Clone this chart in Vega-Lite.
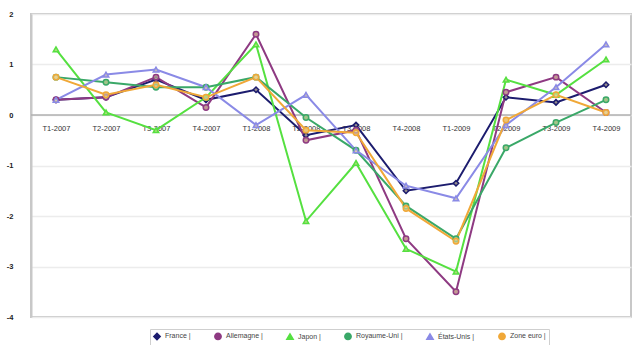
{
  "$schema": "https://vega.github.io/schema/vega-lite/v6.json",
  "width": 600,
  "height": 303,
  "autosize": "none",
  "padding": {"left": 31, "top": 14, "right": 1, "bottom": 28},
  "background": "#ffffff",
  "config": {
    "font": "Liberation Sans",
    "view": {"stroke": "#c8c8c8", "strokeWidth": 2}
  },
  "datasets": {
    "pib": [
      {"t": "T1-2007", "pays": "France", "v": 0.3},
      {"t": "T2-2007", "pays": "France", "v": 0.35},
      {"t": "T3-2007", "pays": "France", "v": 0.7},
      {"t": "T4-2007", "pays": "France", "v": 0.3},
      {"t": "T1-2008", "pays": "France", "v": 0.5},
      {"t": "T2-2008", "pays": "France", "v": -0.4},
      {"t": "T3-2008", "pays": "France", "v": -0.2},
      {"t": "T4-2008", "pays": "France", "v": -1.5},
      {"t": "T1-2009", "pays": "France", "v": -1.35},
      {"t": "T2-2009", "pays": "France", "v": 0.35},
      {"t": "T3-2009", "pays": "France", "v": 0.25},
      {"t": "T4-2009", "pays": "France", "v": 0.6},

      {"t": "T1-2007", "pays": "Allemagne", "v": 0.3},
      {"t": "T2-2007", "pays": "Allemagne", "v": 0.35},
      {"t": "T3-2007", "pays": "Allemagne", "v": 0.75},
      {"t": "T4-2007", "pays": "Allemagne", "v": 0.15},
      {"t": "T1-2008", "pays": "Allemagne", "v": 1.6},
      {"t": "T2-2008", "pays": "Allemagne", "v": -0.5},
      {"t": "T3-2008", "pays": "Allemagne", "v": -0.3},
      {"t": "T4-2008", "pays": "Allemagne", "v": -2.45},
      {"t": "T1-2009", "pays": "Allemagne", "v": -3.5},
      {"t": "T2-2009", "pays": "Allemagne", "v": 0.45},
      {"t": "T3-2009", "pays": "Allemagne", "v": 0.75},
      {"t": "T4-2009", "pays": "Allemagne", "v": 0.05},

      {"t": "T1-2007", "pays": "Japon", "v": 1.3},
      {"t": "T2-2007", "pays": "Japon", "v": 0.05},
      {"t": "T3-2007", "pays": "Japon", "v": -0.3},
      {"t": "T4-2007", "pays": "Japon", "v": 0.35},
      {"t": "T1-2008", "pays": "Japon", "v": 1.4},
      {"t": "T2-2008", "pays": "Japon", "v": -2.1},
      {"t": "T3-2008", "pays": "Japon", "v": -0.95},
      {"t": "T4-2008", "pays": "Japon", "v": -2.65},
      {"t": "T1-2009", "pays": "Japon", "v": -3.1},
      {"t": "T2-2009", "pays": "Japon", "v": 0.7},
      {"t": "T3-2009", "pays": "Japon", "v": 0.4},
      {"t": "T4-2009", "pays": "Japon", "v": 1.1},

      {"t": "T1-2007", "pays": "Royaume-Uni", "v": 0.75},
      {"t": "T2-2007", "pays": "Royaume-Uni", "v": 0.65},
      {"t": "T3-2007", "pays": "Royaume-Uni", "v": 0.55},
      {"t": "T4-2007", "pays": "Royaume-Uni", "v": 0.55},
      {"t": "T1-2008", "pays": "Royaume-Uni", "v": 0.75},
      {"t": "T2-2008", "pays": "Royaume-Uni", "v": -0.05},
      {"t": "T3-2008", "pays": "Royaume-Uni", "v": -0.7},
      {"t": "T4-2008", "pays": "Royaume-Uni", "v": -1.8},
      {"t": "T1-2009", "pays": "Royaume-Uni", "v": -2.45},
      {"t": "T2-2009", "pays": "Royaume-Uni", "v": -0.65},
      {"t": "T3-2009", "pays": "Royaume-Uni", "v": -0.15},
      {"t": "T4-2009", "pays": "Royaume-Uni", "v": 0.3},

      {"t": "T1-2007", "pays": "États-Unis", "v": 0.3},
      {"t": "T2-2007", "pays": "États-Unis", "v": 0.8},
      {"t": "T3-2007", "pays": "États-Unis", "v": 0.9},
      {"t": "T4-2007", "pays": "États-Unis", "v": 0.55},
      {"t": "T1-2008", "pays": "États-Unis", "v": -0.2},
      {"t": "T2-2008", "pays": "États-Unis", "v": 0.4},
      {"t": "T3-2008", "pays": "États-Unis", "v": -0.7},
      {"t": "T4-2008", "pays": "États-Unis", "v": -1.4},
      {"t": "T1-2009", "pays": "États-Unis", "v": -1.65},
      {"t": "T2-2009", "pays": "États-Unis", "v": -0.2},
      {"t": "T3-2009", "pays": "États-Unis", "v": 0.55},
      {"t": "T4-2009", "pays": "États-Unis", "v": 1.4},

      {"t": "T1-2007", "pays": "Zone euro", "v": 0.75},
      {"t": "T2-2007", "pays": "Zone euro", "v": 0.4},
      {"t": "T3-2007", "pays": "Zone euro", "v": 0.6},
      {"t": "T4-2007", "pays": "Zone euro", "v": 0.35},
      {"t": "T1-2008", "pays": "Zone euro", "v": 0.75},
      {"t": "T2-2008", "pays": "Zone euro", "v": -0.3},
      {"t": "T3-2008", "pays": "Zone euro", "v": -0.35},
      {"t": "T4-2008", "pays": "Zone euro", "v": -1.85},
      {"t": "T1-2009", "pays": "Zone euro", "v": -2.5},
      {"t": "T2-2009", "pays": "Zone euro", "v": -0.1},
      {"t": "T3-2009", "pays": "Zone euro", "v": 0.4},
      {"t": "T4-2009", "pays": "Zone euro", "v": 0.05}
    ],
    "zero": [{"y": 0}]
  },
  "layer": [
    {
      "data": {"name": "zero"},
      "mark": {"type": "rule", "color": "#b0b0b0", "strokeWidth": 1.5},
      "encoding": {"y": {"field": "y", "type": "quantitative", "scale": {"domain": [-4, 2]}}}
    },
    {
      "data": {"name": "pib"},
      "encoding": {
        "x": {
          "field": "t",
          "type": "ordinal",
          "sort": null,
          "scale": {"type": "point", "padding": 0.5},
          "axis": {
            "title": null,
            "orient": "bottom",
            "offset": -202,
            "domain": false,
            "ticks": false,
            "labelAngle": 0,
            "labelFontSize": 7.5,
            "labelColor": "#333333",
            "labelPadding": 9
          }
        },
        "y": {
          "field": "v",
          "type": "quantitative",
          "scale": {"domain": [-4, 2], "nice": false},
          "axis": {
            "title": null,
            "values": [-4, -3, -2, -1, 0, 1, 2],
            "labelExpr": "toString(datum.value)",
            "grid": true,
            "gridColor": "#ececec",
            "gridWidth": 1.5,
            "domainColor": "#c8c8c8",
            "domainWidth": 2,
            "ticks": false,
            "labelFontSize": 7.5,
            "labelFontWeight": "bold",
            "labelColor": "#222222",
            "labelPadding": 18
          }
        },
        "color": {
          "field": "pays",
          "type": "nominal",
          "sort": ["France", "Allemagne", "Japon", "Royaume-Uni", "États-Unis", "Zone euro"],
          "scale": {
            "domain": ["France", "Allemagne", "Japon", "Royaume-Uni", "États-Unis", "Zone euro"],
            "range": ["#1c1c6e", "#8e3a82", "#55e040", "#3aa868", "#8a8ae6", "#f0a838"]
          },
          "legend": {
            "title": null,
            "orient": "none",
            "legendX": 119,
            "legendY": 315,
            "direction": "horizontal",
            "labelFontSize": 7,
            "labelColor": "#444444",
            "symbolSize": 40,
            "symbolStrokeWidth": 1.5,
            "columnPadding": 20,
            "padding": 3,
            "strokeColor": "#cfcfcf",
            "labelExpr": "datum.label + ' |'"
          }
        },
        "shape": {
          "field": "pays",
          "type": "nominal",
          "sort": ["France", "Allemagne", "Japon", "Royaume-Uni", "États-Unis", "Zone euro"],
          "scale": {
            "domain": ["France", "Allemagne", "Japon", "Royaume-Uni", "États-Unis", "Zone euro"],
            "range": ["diamond", "circle", "triangle-up", "circle", "triangle-up", "circle"]
          },
          "legend": null
        }
      },
      "layer": [
        {"mark": {"type": "line", "strokeWidth": 2}},
        {"mark": {"type": "point", "filled": false, "size": 30, "strokeWidth": 1.5, "fill": "#e8d8a0", "fillOpacity": 0.6}}
      ]
    }
  ]
}
